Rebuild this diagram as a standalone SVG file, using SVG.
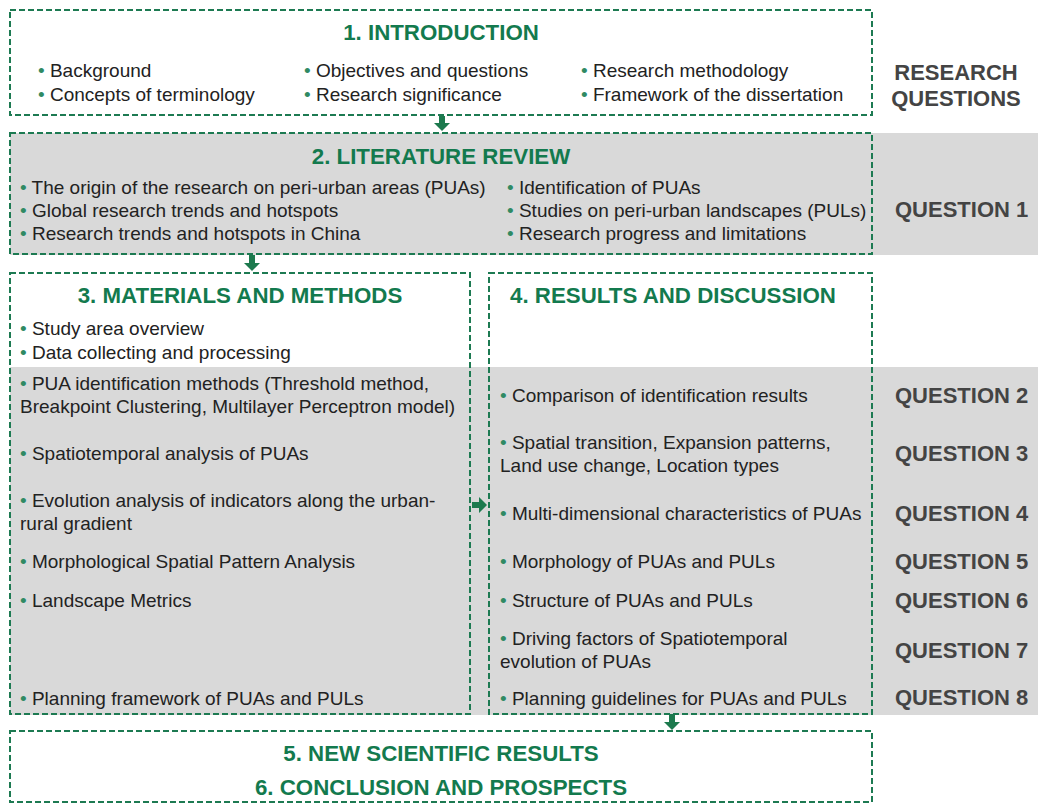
<svg xmlns="http://www.w3.org/2000/svg" width="1038" height="804" viewBox="0 0 1038 804">
<style>
.box{fill:none;stroke:#1d7a52;stroke-width:2;stroke-dasharray:6 3}
.band{fill:#d9d9d9}
.t{font-family:"Liberation Sans",Arial,sans-serif;font-weight:bold;font-size:22.3px;fill:#137a4e;text-anchor:middle}
.b{font-family:"Liberation Sans",Arial,sans-serif;font-size:19px;fill:#222}
.d{fill:#2f8a63}
.q{font-family:"Liberation Sans",Arial,sans-serif;font-weight:bold;font-size:22px;fill:#444}
.arr{fill:#1d7a4e}
</style>
<rect width="1038" height="804" fill="#fff"/>
<rect class="band" x="10" y="133" width="1028" height="122"/>
<rect class="band" x="10" y="367" width="1028" height="348"/>

<g id="intro">
<rect class="box" x="10" y="10" width="862" height="105"/>
<text class="t" x="441" y="40">1. INTRODUCTION</text>
<text class="b" x="38" y="77"><tspan class="d">•</tspan> Background</text>
<text class="b" x="38" y="101"><tspan class="d">•</tspan> Concepts of terminology</text>
<text class="b" x="304" y="77"><tspan class="d">•</tspan> Objectives and questions</text>
<text class="b" x="304" y="101"><tspan class="d">•</tspan> Research significance</text>
<text class="b" x="581" y="77"><tspan class="d">•</tspan> Research methodology</text>
<text class="b" x="581" y="101"><tspan class="d">•</tspan> Framework of the dissertation</text>
</g>

<g id="rq-header">
<text class="q" x="956" y="80" text-anchor="middle">RESEARCH</text>
<text class="q" x="956" y="106" text-anchor="middle">QUESTIONS</text>
</g>

<g id="literature">
<rect class="box" x="10" y="133" width="862" height="121"/>
<text class="t" x="441" y="164">2. LITERATURE REVIEW</text>
<text class="b" x="20" y="194"><tspan class="d">•</tspan> The origin of the research on peri-urban areas (PUAs)</text>
<text class="b" x="20" y="217"><tspan class="d">•</tspan> Global research trends and hotspots</text>
<text class="b" x="20" y="240"><tspan class="d">•</tspan> Research trends and hotspots in China</text>
<text class="b" x="507" y="194"><tspan class="d">•</tspan> Identification of PUAs</text>
<text class="b" x="507" y="217"><tspan class="d">•</tspan> Studies on peri-urban landscapes (PULs)</text>
<text class="b" x="507" y="240"><tspan class="d">•</tspan> Research progress and limitations</text>
</g>

<g id="methods">
<rect class="box" x="10" y="273" width="460" height="441"/>
<text class="t" x="240" y="303">3. MATERIALS AND METHODS</text>
<text class="b" x="20" y="335"><tspan class="d">•</tspan> Study area overview</text>
<text class="b" x="20" y="359"><tspan class="d">•</tspan> Data collecting and processing</text>
<text class="b" x="20" y="390"><tspan class="d">•</tspan> PUA identification methods (Threshold method,</text>
<text class="b" x="20" y="413">Breakpoint Clustering, Multilayer Perceptron model)</text>
<text class="b" x="20" y="460"><tspan class="d">•</tspan> Spatiotemporal analysis of PUAs</text>
<text class="b" x="20" y="507"><tspan class="d">•</tspan> Evolution analysis of indicators along the urban-</text>
<text class="b" x="20" y="530">rural gradient</text>
<text class="b" x="20" y="568"><tspan class="d">•</tspan> Morphological Spatial Pattern Analysis</text>
<text class="b" x="20" y="607"><tspan class="d">•</tspan> Landscape Metrics</text>
<text class="b" x="20" y="705"><tspan class="d">•</tspan> Planning framework of PUAs and PULs</text>
</g>

<g id="results">
<rect class="box" x="489" y="273" width="383" height="441"/>
<text class="t" x="673" y="303">4. RESULTS AND DISCUSSION</text>
<text class="b" x="500" y="402"><tspan class="d">•</tspan> Comparison of identification results</text>
<text class="b" x="500" y="449"><tspan class="d">•</tspan> Spatial transition, Expansion patterns,</text>
<text class="b" x="500" y="472">Land use change, Location types</text>
<text class="b" x="500" y="520"><tspan class="d">•</tspan> Multi-dimensional characteristics of PUAs</text>
<text class="b" x="500" y="568"><tspan class="d">•</tspan> Morphology of PUAs and PULs</text>
<text class="b" x="500" y="607"><tspan class="d">•</tspan> Structure of PUAs and PULs</text>
<text class="b" x="500" y="645"><tspan class="d">•</tspan> Driving factors of Spatiotemporal</text>
<text class="b" x="500" y="668">evolution of PUAs</text>
<text class="b" x="500" y="705"><tspan class="d">•</tspan> Planning guidelines for PUAs and PULs</text>
</g>

<g id="questions">
<text class="q" x="895" y="217">QUESTION 1</text>
<text class="q" x="895" y="403">QUESTION 2</text>
<text class="q" x="895" y="461">QUESTION 3</text>
<text class="q" x="895" y="521">QUESTION 4</text>
<text class="q" x="895" y="569">QUESTION 5</text>
<text class="q" x="895" y="608">QUESTION 6</text>
<text class="q" x="895" y="658">QUESTION 7</text>
<text class="q" x="895" y="705">QUESTION 8</text>
</g>

<g id="conclusion">
<rect class="box" x="10" y="731" width="862" height="71"/>
<text class="t" x="441" y="761">5. NEW SCIENTIFIC RESULTS</text>
<text class="t" x="441" y="795">6. CONCLUSION AND PROSPECTS</text>
</g>

<g id="connectors">
<path class="arr" d="M439 116 h6 v7 h5 l-8 8 l-8 -8 h5 z"/>
<path class="arr" d="M249 255 h6 v8 h5 l-8 8 l-8 -8 h5 z"/>
<path class="arr" d="M472 502 h7 v-5 l8 8 l-8 8 v-5 h-7 z"/>
<path class="arr" d="M669 714 h6 v8 h5 l-8 8 l-8 -8 h5 z"/>
</g>
</svg>
